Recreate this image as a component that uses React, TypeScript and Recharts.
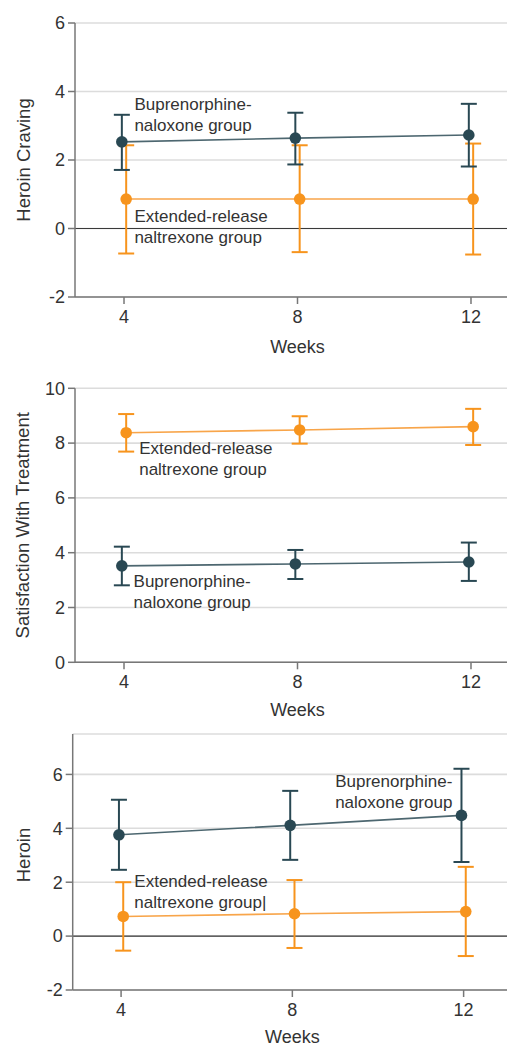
import React from 'react';
import {
  LineChart,
  Line,
  XAxis,
  YAxis,
  CartesianGrid,
  ErrorBar,
  ReferenceLine,
  ReferenceDot,
} from 'recharts';

// ---------- data ----------
const weeks = [4, 8, 12];
const weekTicks = [4, 8, 12];

// Panel A: Heroin craving
const cravingBupMean = [2.53, 2.64, 2.73];
const cravingBupLow = [1.71, 1.87, 1.81];
const cravingBupHigh = [3.32, 3.38, 3.64];
const cravingErMean = [0.86, 0.86, 0.86];
const cravingErLow = [-0.73, -0.69, -0.76];
const cravingErHigh = [2.43, 2.43, 2.48];
const cravingTicks = [-2, 0, 2, 4, 6];

// Panel B: Satisfaction with treatment
const satBupMean = [3.52, 3.59, 3.66];
const satBupLow = [2.81, 3.04, 2.97];
const satBupHigh = [4.22, 4.1, 4.37];
const satErMean = [8.38, 8.48, 8.6];
const satErLow = [7.69, 7.98, 7.93];
const satErHigh = [9.06, 8.98, 9.25];
const satTicks = [0, 2, 4, 6, 8, 10];

// Panel C: Heroin
const heroinBupMean = [3.76, 4.11, 4.48];
const heroinBupLow = [2.46, 2.83, 2.75];
const heroinBupHigh = [5.06, 5.39, 6.21];
const heroinErMean = [0.73, 0.83, 0.91];
const heroinErLow = [-0.54, -0.44, -0.74];
const heroinErHigh = [2.0, 2.08, 2.57];
const heroinTicks = [-2, 0, 2, 4, 6];

const bupLabel = ['Buprenorphine-', 'naloxone group'];
const erLabel = ['Extended-release', 'naltrexone group'];
const erLabelCursor = ['Extended-release', 'naltrexone group|'];

// ---------- styling ----------
const BUP_COLOR = '#294853';
const BUP_LINE = '#4d6770';
const ER_COLOR = '#f7941d';
const ER_LINE = '#f8a54a';
const DODGE = 0.05;
const X_DOMAIN: [number, number] = [2.87, 13.13];
const TEXT = '#333333';
const AXIS = '#777777';
const FONT = "'Liberation Sans', Arial, sans-serif";

type Pt = { x: number; y: number; err: [number, number] };

function buildSeries(mean: number[], lo: number[], hi: number[], shift: number): Pt[] {
  return weeks.map((w, i) => ({
    x: w + shift,
    y: mean[i],
    err: [mean[i] - lo[i], hi[i] - mean[i]],
  }));
}

type Series = { data: Pt[]; color: string; line: string; name: string };
type Note = { x: number; y: number; lines: string[] };

type PanelProps = {
  chartWidth: number;
  chartHeight: number;
  top: number;
  plotHeight: number;
  yAxisWidth: number;
  yDomain: [number, number];
  yTicks: number[];
  yLabel: string;
  yLabelDy: number;
  weeksDy: number;
  zeroLine: boolean;
  series: Series[];
  notes: Note[];
};

function Panel(p: PanelProps) {
  const xAxisHeight = p.chartHeight - p.top - p.plotHeight;
  return (
    <div style={{ width: 507, height: p.chartHeight, position: 'relative' }}>
      <LineChart
        width={p.chartWidth}
        height={p.chartHeight}
        margin={{ top: p.top, right: 0, bottom: 0, left: 0 }}
        style={{ overflow: 'visible' }}
      >
        <CartesianGrid vertical={false} stroke="#dcdcdc" strokeWidth={1.6} />
        <XAxis
          type="number"
          dataKey="x"
          domain={X_DOMAIN}
          ticks={weekTicks}
          allowDataOverflow
          height={xAxisHeight}
          tickSize={7}
          tickMargin={6}
          stroke={AXIS}
          strokeWidth={1.5}
          tick={{ fill: TEXT, fontSize: 18 }}
          label={{
            content: (lp: any) => {
              const vb = lp.viewBox || {};
              const cx = vb.x + vb.width / 2;
              const cy = vb.y + p.weeksDy;
              return (
                <text
                  x={cx}
                  y={cy}
                  textAnchor="middle"
                  dominantBaseline="central"
                  fontSize={18}
                  fill={TEXT}
                >
                  Weeks
                </text>
              );
            },
          }}
        />
        <YAxis
          type="number"
          domain={p.yDomain}
          ticks={p.yTicks}
          allowDataOverflow
          width={p.yAxisWidth}
          tickSize={7}
          tickMargin={3}
          stroke={AXIS}
          strokeWidth={1.5}
          tick={{ fill: TEXT, fontSize: 18 }}
          label={{
            content: (lp: any) => {
              const vb = lp.viewBox || {};
              const cx = vb.x + 23;
              const cy = vb.y + vb.height / 2 + p.yLabelDy;
              return (
                <text
                  x={cx}
                  y={cy}
                  transform={`rotate(-90 ${cx} ${cy})`}
                  textAnchor="middle"
                  dominantBaseline="central"
                  fontSize={18.5}
                  fill={TEXT}
                >
                  {p.yLabel}
                </text>
              );
            },
          }}
        />
        {p.zeroLine && <ReferenceLine y={0} stroke="#3a3a3a" strokeWidth={1.2} />}
        {p.series.map((s) => (
          <Line
            key={s.name}
            data={s.data}
            dataKey="y"
            name={s.name}
            stroke={s.line}
            strokeWidth={1.6}
            dot={{ r: 5.8, fill: s.color, stroke: 'none' }}
            activeDot={false}
            isAnimationActive={false}
          >
            <ErrorBar
              dataKey="err"
              direction="y"
              width={8}
              stroke={s.color}
              strokeWidth={2}
              isAnimationActive={false}
            />
          </Line>
        ))}
        {p.notes.map((n, i) => (
          <ReferenceDot
            key={i}
            x={n.x}
            y={n.y}
            r={0}
            ifOverflow="visible"
            shape={(sp: any) => (
              <text x={sp.cx} y={sp.cy} fontSize={17} fill={TEXT}>
                {n.lines.map((l, j) => (
                  <tspan key={j} x={sp.cx} dy={j === 0 ? 0 : 21}>
                    {l}
                  </tspan>
                ))}
              </text>
            )}
          />
        ))}
      </LineChart>
    </div>
  );
}

export default function App() {
  return (
    <div
      style={{
        position: 'absolute',
        left: 0,
        top: 0,
        width: 507,
        height: 1048,
        overflow: 'hidden',
        background: '#ffffff',
        fontFamily: FONT,
      }}
    >
      <Panel
        chartWidth={520}
        chartHeight={360}
        top={23}
        plotHeight={274}
        yAxisWidth={75}
        yDomain={[-2, 6]}
        yTicks={cravingTicks}
        yLabel="Heroin Craving"
        yLabelDy={0}
        weeksDy={50}
        zeroLine
        series={[
          { name: 'er', data: buildSeries(cravingErMean, cravingErLow, cravingErHigh, DODGE), color: ER_COLOR, line: ER_LINE },
          { name: 'bup', data: buildSeries(cravingBupMean, cravingBupLow, cravingBupHigh, -DODGE), color: BUP_COLOR, line: BUP_LINE },
        ]}
        notes={[
          { x: 4.24, y: 3.46, lines: bupLabel },
          { x: 4.24, y: 0.2, lines: erLabel },
        ]}
      />
      <Panel
        chartWidth={520}
        chartHeight={360}
        top={28.3}
        plotHeight={274}
        yAxisWidth={75}
        yDomain={[0, 10]}
        yTicks={satTicks}
        yLabel="Satisfaction With Treatment"
        yLabelDy={0}
        weeksDy={48}
        zeroLine={false}
        series={[
          { name: 'er', data: buildSeries(satErMean, satErLow, satErHigh, DODGE), color: ER_COLOR, line: ER_LINE },
          { name: 'bup', data: buildSeries(satBupMean, satBupLow, satBupHigh, -DODGE), color: BUP_COLOR, line: BUP_LINE },
        ]}
        notes={[
          { x: 4.35, y: 7.59, lines: erLabel },
          { x: 4.22, y: 2.74, lines: bupLabel },
        ]}
      />
      <Panel
        chartWidth={512}
        chartHeight={328}
        top={14}
        plotHeight={256}
        yAxisWidth={72.7}
        yDomain={[-2, 7.5]}
        yTicks={heroinTicks}
        yLabel="Heroin"
        yLabelDy={-7}
        weeksDy={47}
        zeroLine
        series={[
          { name: 'er', data: buildSeries(heroinErMean, heroinErLow, heroinErHigh, DODGE), color: ER_COLOR, line: ER_LINE },
          { name: 'bup', data: buildSeries(heroinBupMean, heroinBupLow, heroinBupHigh, -DODGE), color: BUP_COLOR, line: BUP_LINE },
        ]}
        notes={[
          { x: 9.0, y: 5.54, lines: bupLabel },
          { x: 4.31, y: 1.82, lines: erLabelCursor },
        ]}
      />
    </div>
  );
}
